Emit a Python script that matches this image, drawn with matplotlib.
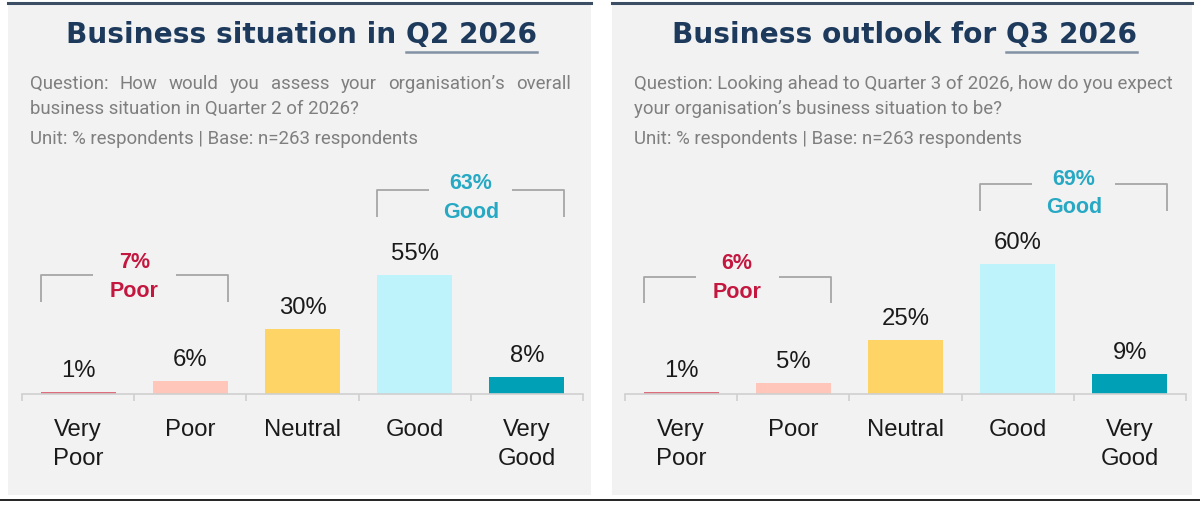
import matplotlib
matplotlib.use("Agg")
import matplotlib.pyplot as plt
from matplotlib.patches import Rectangle
from matplotlib.lines import Line2D

# ---------------- data ----------------
categories = ["Very\nPoor", "Poor", "Neutral", "Good", "Very\nGood"]
q2_values = [1, 6, 30, 55, 8]
q3_values = [1, 5, 25, 60, 9]
q2_poor_total = 7
q2_good_total = 63
q3_poor_total = 6
q3_good_total = 69

titles_main = ["Business situation in ", "Business outlook for "]
titles_period = ["Q2 2026", "Q3 2026"]
question_lines = [
    ["Question: How would you assess your organisation\u2019s overall",
     "business situation in Quarter 2 of 2026?"],
    ["Question: Looking ahead to Quarter 3 of 2026, how do you expect",
     "your organisation\u2019s business situation to be?"],
]
unit_line = "Unit: % respondents | Base: n=263 respondents"

bar_colors = ["#DD6C7C", "#FFC6B9", "#FFD466", "#BFF3FB", "#00A0B6"]
poor_color = "#C3173F"
good_color = "#27A9C4"
title_color = "#1D3A5C"
sub_color = "#7F7F7F"
panel_bg = "#F2F2F2"

W, H = 1200, 506
fig = plt.figure(figsize=(12, 5.06), dpi=100)
fig.patch.set_facecolor("white")

def fx(px):
    return px / W

def fy(py):
    return 1 - py / H

# panels
panels = [(8, 591), (612, 1192)]
for (x0, x1) in panels:
    fig.patches.append(Rectangle((fx(x0), fy(496)), fx(x1 - x0), (496 - 4) / H,
                                 transform=fig.transFigure, facecolor=panel_bg,
                                 edgecolor="none", zorder=-5))
    fig.lines.append(Line2D([fx(x0), fx(x1)], [fy(3.5), fy(3.5)], transform=fig.transFigure,
                            color="#3B4E63", lw=2.2, zorder=1))
fig.lines.append(Line2D([0, 1], [fy(500.5), fy(500.5)], transform=fig.transFigure,
                        color="#111111", lw=1.3, zorder=1))

renderer = fig.canvas.get_renderer()

title_font = dict(family=["DejaVu Sans"], weight="bold", size=20.2, color=title_color)
sub_font = dict(family=["Liberation Sans Narrow", "Roboto", "DejaVu Sans"], size=13.4, color=sub_color)

def draw_title(cx_px, main, period):
    t1 = fig.text(0, 0, main, **title_font)
    t2 = fig.text(0, 0, period, **title_font)
    w1 = t1.get_window_extent(renderer).width
    w2 = t2.get_window_extent(renderer).width
    total = w1 + w2
    left = cx_px - total / 2
    ty = 43
    t1.set_position((fx(left), fy(ty)))
    t1.set_va("baseline")
    t2.set_position((fx(left + w1), fy(ty)))
    t2.set_va("baseline")
    fig.lines.append(Line2D([fx(left + w1), fx(left + w1 + w2)], [fy(52.5), fy(52.5)],
                            transform=fig.transFigure, color="#8391A4", lw=1.8))

def draw_justified(x0, x1, y, line):
    words = line.split(" ")
    objs = [fig.text(0, fy(y), w, va="baseline", **sub_font) for w in words]
    widths = [o.get_window_extent(renderer).width for o in objs]
    gap = (x1 - x0 - sum(widths)) / (len(words) - 1)
    x = x0
    for o, w in zip(objs, widths):
        o.set_x(fx(x))
        x += w + gap

def draw_panel(idx, values, poor_total, good_total, poor_geom, good_geom):
    ox = panels[idx][0]
    cx = (panels[idx][0] + panels[idx][1]) / 2
    draw_title(cx + 2, titles_main[idx], titles_period[idx])
    tx = ox + 22
    q = question_lines[idx]
    if idx == 0:
        draw_justified(tx, ox + 563, 89, q[0])
    else:
        fig.text(fx(tx), fy(89), q[0], va="baseline", **sub_font)
    fig.text(fx(tx), fy(114), q[1], va="baseline", **sub_font)
    fig.text(fx(tx), fy(144), unit_line, va="baseline", **sub_font)

    ax_left = ox + 14 if idx == 0 else ox + 13
    ax_w = 561
    ax = fig.add_axes([fx(ax_left), fy(395), fx(ax_w), (395 - 150) / H])
    ax.set_facecolor("none")
    px_per_unit = 2.17
    ax.set_ylim(0, 245 / px_per_unit)
    ax.set_xlim(-0.5, 4.5)
    x = list(range(len(categories)))
    ax.bar(x, values, width=0.67, color=bar_colors, zorder=2)
    for xi, v in zip(x, values):
        ax.annotate(f"{v}%", (xi, v), xytext=(0, 11.5), textcoords="offset points",
                    ha="center", va="baseline", fontsize=17.2,
                    family=["Liberation Sans", "DejaVu Sans"], color="#1A1A1A")
    for s in ["top", "right", "left"]:
        ax.spines[s].set_visible(False)
    ax.spines["bottom"].set_color("#D0D0D0")
    ax.spines["bottom"].set_linewidth(1.2)
    ax.set_yticks([])
    ax.set_xticks(x)
    ax.set_xticklabels(categories, fontsize=17.2, family=["Liberation Sans", "DejaVu Sans"],
                       color="#1A1A1A", linespacing=1.42)
    ax.tick_params(axis="x", which="major", length=0, pad=17)
    ax.set_xticks([i - 0.5 for i in range(len(categories) + 1)], minor=True)
    ax.tick_params(axis="x", which="minor", length=5, color="#D0D0D0", width=1.2)

    hw = 0.67 / 2
    gap = 0.37
    def bracket(i0, i1, top, bottom, ytxt1, ytxt2, label1, label2, col):
        xl, xr = i0 - hw, i1 + hw
        xc = (xl + xr) / 2
        kw = dict(color="#A6A6A6", lw=1.3, solid_capstyle="butt", clip_on=False)
        ax.plot([xl, xl, xc - gap], [bottom, top, top], **kw)
        ax.plot([xc + gap, xr, xr], [top, top, bottom], **kw)
        tkw = dict(ha="center", va="center", fontsize=15.5, weight="bold",
                   family=["Liberation Sans", "DejaVu Sans"], color=col, clip_on=False)
        ax.text(xc, ytxt1, label1, **tkw)
        ax.text(xc, ytxt2, label2, **tkw)
    bracket(0, 1, *poor_geom, f"{poor_total}%", "Poor", poor_color)
    bracket(3, 4, *good_geom, f"{good_total}%", "Good", good_color)

draw_panel(0, q2_values, q2_poor_total, q2_good_total,
           (54.8, 42.4, 61.2, 47.6), (94.0, 81.6, 97.6, 84.0))
draw_panel(1, q3_values, q3_poor_total, q3_good_total,
           (53.9, 41.9, 60.8, 47.2), (96.8, 84.3, 99.4, 86.3))

fig.savefig("out.png", dpi=100, facecolor="white")
